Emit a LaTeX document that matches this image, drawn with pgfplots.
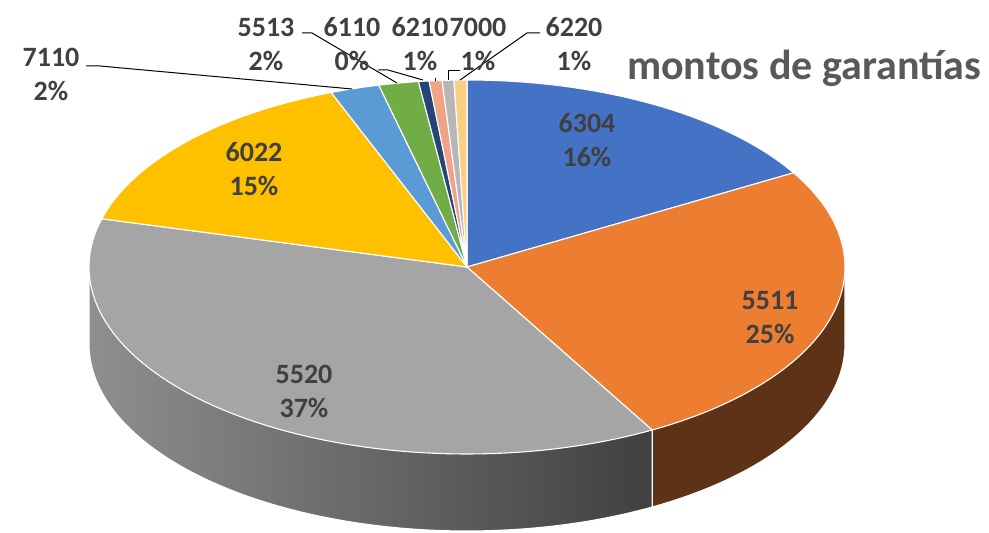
\documentclass[border=0pt]{standalone}
\usepackage{pgfplots}
\usepackage{pgfplotstable}
\pgfplotsset{compat=1.18}
\usepackage{fontspec}
\setmainfont{Carlito}

\definecolor{c0}{HTML}{4472C4}
\definecolor{c1}{HTML}{ED7D31}
\definecolor{c2}{HTML}{A5A5A5}
\definecolor{c3}{HTML}{FFC000}
\definecolor{c4}{HTML}{5B9BD5}
\definecolor{c5}{HTML}{70AD47}
\definecolor{c6}{HTML}{264478}
\definecolor{c7}{HTML}{F1A386}
\definecolor{c8}{HTML}{B7B7B7}
\definecolor{c9}{HTML}{FBCF82}
\definecolor{sideOrange}{HTML}{5E3216}
\definecolor{sideGrayL}{HTML}{8F8F8F}
\definecolor{sideGrayM}{HTML}{6E6E6E}
\definecolor{sideGrayR}{HTML}{404040}
\definecolor{labtxt}{HTML}{404040}
\definecolor{titletxt}{HTML}{595959}

% share of each code (percent), clockwise from 12 o'clock
\pgfplotstableread{
name value
6304 16.6
5511 25.25
5520 37.3
6022 15.0
7110 2.1
5513 1.7
6110 0.45
6210 0.55
7000 0.5
6220 0.55
}\piedata

\gdef\cum{0}
\foreach \i in {0,...,9}{%
  \pgfplotstablegetelem{\i}{value}\of\piedata
  \pgfmathsetmacro\sa{90-3.6*\cum}%
  \pgfmathsetmacro\newcum{\cum+\pgfplotsretval}%
  \pgfmathsetmacro\sb{90-3.6*\newcum}%
  \expandafter\xdef\csname sa\i\endcsname{\sa}%
  \expandafter\xdef\csname sb\i\endcsname{\sb}%
  \xdef\cum{\newcum}%
}

\def\cx{467}
\def\cy{266}
\def\rx{378}
\def\ry{187}
\def\dz{77}

\begin{document}
\begin{tikzpicture}
\begin{axis}[
  width=989pt, height=533pt, scale only axis,
  xmin=0, xmax=989, ymin=0, ymax=533,
  hide axis, clip=false,
]
% --- side walls (front part only) ---
\edef\doside{\noexpand\addplot[fill=sideOrange, draw=white, line width=1.1pt, line join=round,
   domain=\csname sb1\endcsname:0, samples=80, variable=\noexpand\t]
   ({\cx+\rx*cos(\noexpand\t)},{\cy-\dz+\ry*sin(\noexpand\t)})
   -- (\cx+\rx,\cy) -- ({\cx+\rx*cos(\csname sb1\endcsname)},{\cy+\ry*sin(\csname sb1\endcsname)}) -- cycle;}
\doside
\edef\doside{\noexpand\addplot[left color=sideGrayL, middle color=sideGrayM, right color=sideGrayR, draw=white, line width=1.1pt, line join=round,
   domain=-180:\csname sb1\endcsname, samples=120, variable=\noexpand\t]
   ({\cx+\rx*cos(\noexpand\t)},{\cy-\dz+\ry*sin(\noexpand\t)})
   -- ({\cx+\rx*cos(\csname sb1\endcsname)},{\cy+\ry*sin(\csname sb1\endcsname)}) -- (\cx-\rx,\cy) -- cycle;}
\doside
% --- top face slices ---
\pgfplotsforeachungrouped \i in {0,...,9}{%
  \edef\doslice{\noexpand\addplot[fill=c\i, draw=white, line width=1.1pt, line join=round,
     domain=\csname sb\i\endcsname:\csname sa\i\endcsname, samples=80, variable=\noexpand\t]
     ({\cx+\rx*cos(\noexpand\t)},{\cy+\ry*sin(\noexpand\t)}) -- (\cx,\cy) -- cycle;}%
  \doslice
}
% --- leader lines ---
\tikzset{lead/.style={black, line width=1pt}}
\draw[lead] (86,467) -- (100,467) -- (352,444);
\draw[lead] (302,500) -- (312,500) -- (397,450);
\draw[lead] (378,463) -- (388,463) -- (423,453);
\draw[lead] (435,455) -- (435,452);
\draw[lead] (448,453) -- (448,462) -- (460,462);
\draw[lead] (460,453) -- (527,500) -- (540,500);
% --- labels ---
\tikzset{lab/.style={align=center, text=labtxt, inner sep=0pt,
  font=\fontsize{28}{34}\selectfont\bfseries}}
\node[lab] at (587,393) {6304\\16\%};
\node[lab] at (770,215) {5511\\25\%};
\node[lab] at (304,142) {5520\\37\%};
\node[lab] at (254,364) {6022\\15\%};
\node[lab] at (51,459) {7110\\2\%};
\node[lab] at (266,489) {5513\\2\%};
\node[lab] at (352,489) {6110\\0\%};
\node[lab] at (420,489) {6210\\1\%};
\node[lab] at (478,489) {7000\\1\%};
\node[lab] at (574,489) {6220\\1\%};
\node[anchor=base west, inner sep=0pt, text=titletxt,
  font=\fontsize{42}{48}\selectfont\bfseries] at (627,453) {montos de garantías};
\end{axis}
\pgfresetboundingbox
\useasboundingbox (current axis.south west) rectangle (current axis.north east);
\end{tikzpicture}
\end{document}
